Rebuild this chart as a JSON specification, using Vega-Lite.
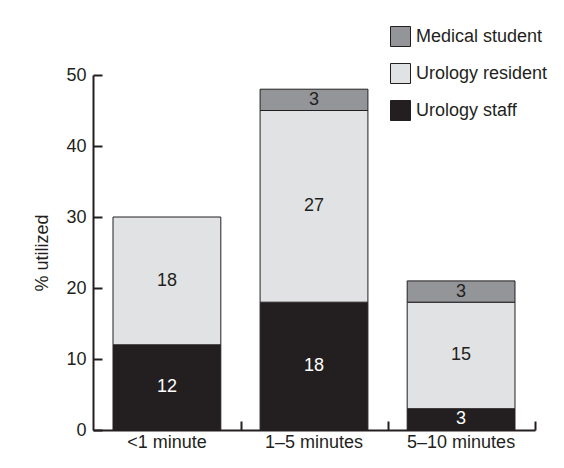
{
  "$schema": "https://vega.github.io/schema/vega-lite/v6.json",
  "autosize": "none",
  "width": 442,
  "height": 355,
  "padding": {"left": 93, "top": 75, "right": 29, "bottom": 38},
  "background": "white",
  "config": {
    "font": "Liberation Sans, Arial, sans-serif",
    "view": {"stroke": null},
    "axis": {"labelFont": "Liberation Sans, Arial, sans-serif", "titleFont": "Liberation Sans, Arial, sans-serif", "labelColor": "#231f20", "titleColor": "#231f20", "domainColor": "#231f20", "tickColor": "#231f20", "grid": false, "labelFontSize": 18, "titleFontSize": 18, "titleFontWeight": "normal"},
    "legend": {"labelFont": "Liberation Sans, Arial, sans-serif", "labelFontSize": 18, "labelColor": "#231f20"}
  },
  "data": {"values": [
    {"time": "<1 minute", "role": "Urology staff", "k": 1, "value": 12},
    {"time": "<1 minute", "role": "Urology resident", "k": 2, "value": 18},
    {"time": "1–5 minutes", "role": "Urology staff", "k": 1, "value": 18},
    {"time": "1–5 minutes", "role": "Urology resident", "k": 2, "value": 27},
    {"time": "1–5 minutes", "role": "Medical student", "k": 3, "value": 3},
    {"time": "5–10 minutes", "role": "Urology staff", "k": 1, "value": 3},
    {"time": "5–10 minutes", "role": "Urology resident", "k": 2, "value": 15},
    {"time": "5–10 minutes", "role": "Medical student", "k": 3, "value": 3}
  ]},
  "layer": [
    {
      "mark": {"type": "bar", "stroke": "#231f20", "strokeWidth": 1},
      "encoding": {
        "x": {"field": "time", "type": "nominal", "sort": null,
              "scale": {"paddingInner": 0.267, "paddingOuter": 0.136},
              "axis": {"orient": "bottom", "title": null, "labelAngle": 0, "ticks": false, "domainWidth": 2, "labelPadding": 3}},
        "y": {"field": "value", "type": "quantitative", "stack": "zero",
              "scale": {"domain": [0, 50], "nice": false},
              "axis": {"title": "% utilized", "values": [0, 10, 20, 30, 40, 50], "tickSize": -9, "tickWidth": 2, "domainWidth": 2, "labelPadding": 16, "titlePadding": 14}},
        "color": {"field": "role", "type": "nominal",
                  "scale": {"domain": ["Medical student", "Urology resident", "Urology staff"], "range": ["#939598", "#e1e2e3", "#231f20"]},
                  "legend": {"title": null, "orient": "none", "legendX": 297, "legendY": -49, "symbolType": "square", "symbolSize": 400, "symbolStrokeColor": "#231f20", "symbolStrokeWidth": 1, "symbolOpacity": 1, "labelOffset": 5, "rowPadding": 12, "padding": 0}},
        "order": {"field": "k", "type": "quantitative"}
      }
    },
    {
      "mark": {"type": "text", "fontSize": 18, "baseline": "middle", "align": "center"},
      "encoding": {
        "x": {"field": "time", "type": "nominal", "sort": null,
              "axis": {"orient": "bottom", "title": null, "labels": false, "domain": false, "ticks": true, "tickSize": -9, "tickWidth": 2, "bandPosition": 1, "tickOffset": 20}},
        "y": {"field": "value", "type": "quantitative", "stack": "zero", "bandPosition": 0.5},
        "text": {"field": "value", "type": "quantitative"},
        "order": {"field": "k", "type": "quantitative"},
        "color": {"condition": {"test": "datum.role === 'Urology staff'", "value": "white"}, "value": "#231f20"}
      }
    }
  ],
  "resolve": {"axis": {"x": "independent"}}
}
